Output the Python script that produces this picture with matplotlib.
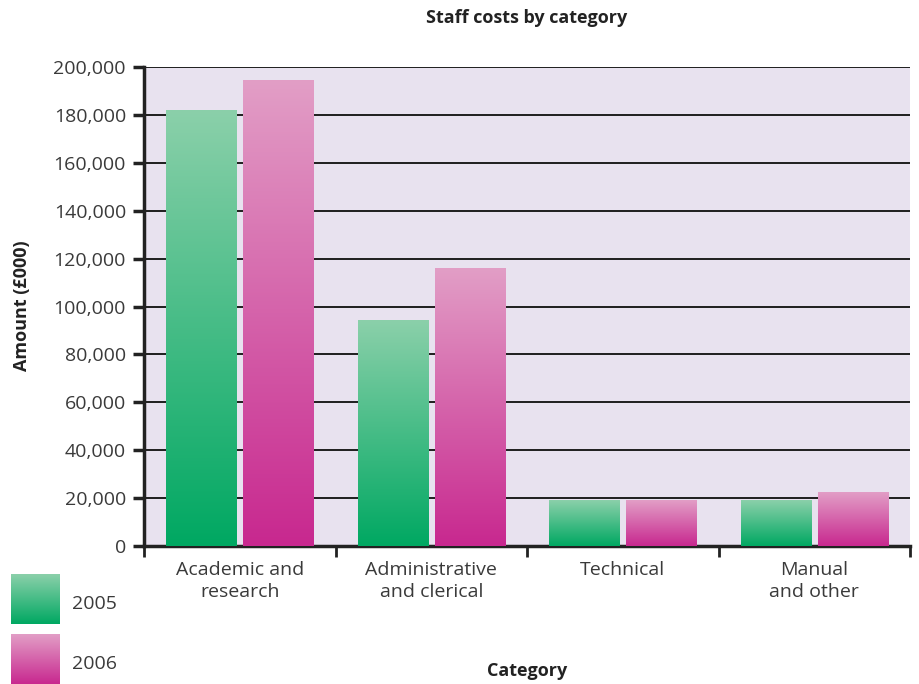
import numpy as np
import matplotlib
matplotlib.use("Agg")
import matplotlib.pyplot as plt
from matplotlib.colors import LinearSegmentedColormap
from matplotlib.ticker import FuncFormatter

plt.rcParams['font.family'] = ['Open Sans', 'DejaVu Sans']

categories = ["Academic and\nresearch", "Administrative\nand clerical", "Technical", "Manual\nand other"]
years = ["2005", "2006"]
costs_2005 = [182000, 94000, 19000, 19000]
costs_2006 = [194500, 116000, 19000, 22500]

green_cmap = LinearSegmentedColormap.from_list("g", ["#00A862", "#8BD0AA"])
pink_cmap = LinearSegmentedColormap.from_list("p", ["#C8288F", "#E29EC6"])

fig = plt.figure(figsize=(9.2, 6.84), dpi=100)
ax = fig.add_axes([144 / 920, 1 - 546 / 684, (910 - 144) / 920, (546 - 67) / 684])
ax.set_facecolor("#E8E2EF")

x = np.arange(len(categories))
width = 0.366
offset = 0.201
grad = np.linspace(0, 1, 256).reshape(-1, 1)

def gradient_bars(xs, vals, cmap):
    bars = ax.bar(xs, vals, width=width, color="none", edgecolor="none", zorder=3)
    for b in bars:
        x0, y0 = b.get_x(), b.get_y()
        w, h = b.get_width(), b.get_height()
        ax.imshow(grad, cmap=cmap, origin="lower", aspect="auto",
                  extent=[x0, x0 + w, y0, y0 + h], zorder=3, interpolation="bicubic")
    return bars

gradient_bars(x - offset, costs_2005, green_cmap)
gradient_bars(x + offset, costs_2006, pink_cmap)

ax.set_xlim(-0.5, len(categories) - 0.5)
ax.set_ylim(0, 200000)
ax.set_yticks(np.arange(0, 200001, 20000))
ax.yaxis.set_major_formatter(FuncFormatter(lambda v, p: f"{int(v):,}"))
ax.yaxis.grid(True, color="#1e1e1e", linewidth=1.4, zorder=1)
ax.set_axisbelow(True)

ax.set_xticks(np.arange(-0.5, len(categories), 1.0))
ax.set_xticklabels([])
ax.set_xticks(x, minor=True)
ax.set_xticklabels(categories, minor=True, fontsize=14, color="#3a3a3a", linespacing=1.3)
ax.tick_params(axis="x", which="major", direction="out", length=8, width=2, color="#222222")
ax.tick_params(axis="x", which="minor", length=0, pad=11)
ax.tick_params(axis="y", direction="out", length=8, width=2.5, color="#222222",
               labelsize=14, labelcolor="#3a3a3a", pad=5)

for s in ["top", "right"]:
    ax.spines[s].set_visible(False)
for s in ["left", "bottom"]:
    ax.spines[s].set_linewidth(2.5)
    ax.spines[s].set_color("#222222")

fig.text(527 / 920, 1 - 18 / 684, "Staff costs by category", ha="center", va="center",
         fontsize=13, fontweight="bold", color="#222222")
fig.text(527 / 920, 1 - 671 / 684, "Category", ha="center", va="center",
         fontsize=13, fontweight="bold", color="#222222")
fig.text(22 / 920, 1 - 306 / 684, "Amount (£000)", ha="center", va="center", rotation=90,
         fontsize=13, fontweight="bold", color="#222222")

# legend swatches with the same vertical gradients
for i, (label, cmap) in enumerate(zip(years, [green_cmap, pink_cmap])):
    top = 574 + i * 60
    lax = fig.add_axes([11 / 920, 1 - (top + 50) / 684, 49 / 920, 50 / 684])
    lax.imshow(grad, cmap=cmap, origin="lower", aspect="auto", interpolation="bicubic")
    lax.set_axis_off()
    fig.text(72 / 920, 1 - (top + 30) / 684, label, ha="left", va="center",
             fontsize=14, color="#3a3a3a")

fig.savefig("out.png", dpi=100)
